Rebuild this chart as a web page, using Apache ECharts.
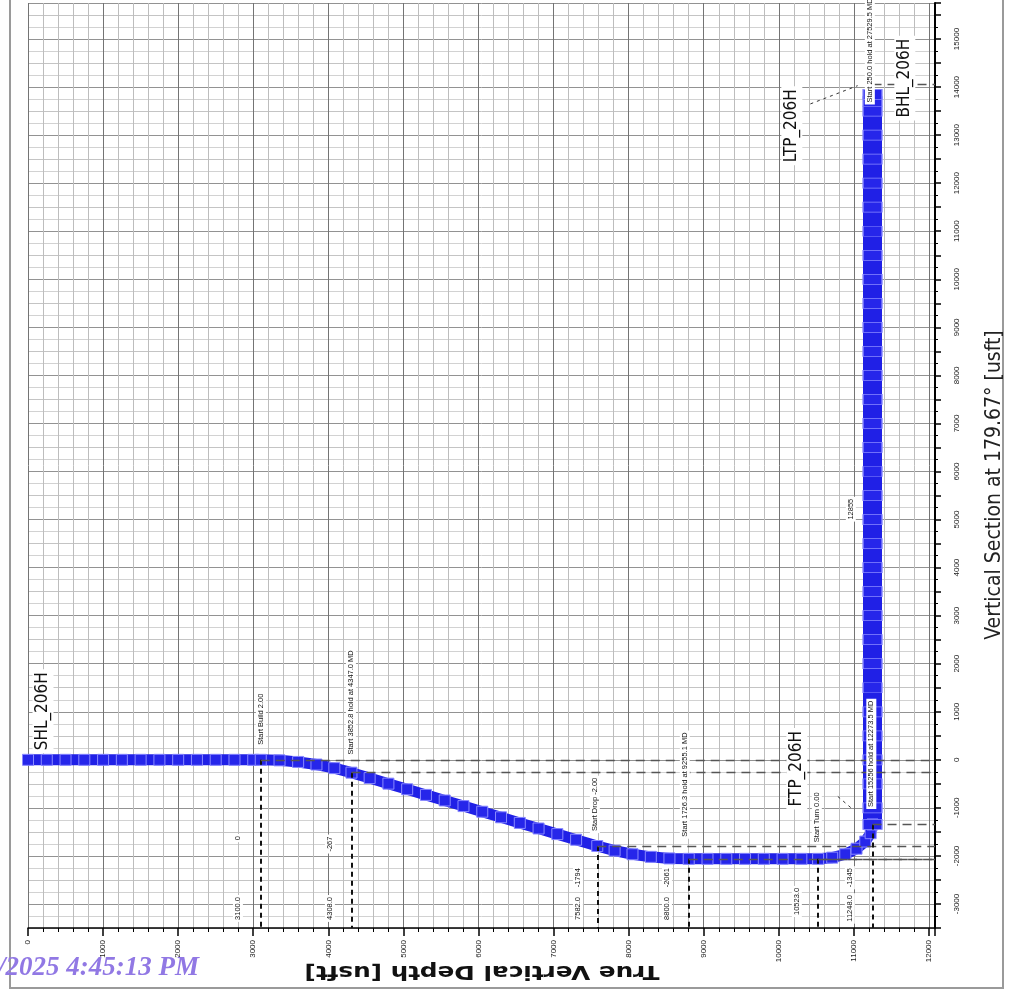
<!DOCTYPE html>
<html><head><meta charset="utf-8">
<script src="https://cdn.jsdelivr.net/npm/echarts@6/dist/echarts.min.js"></script>
<style>html,body{margin:0;padding:0;background:#fff;overflow:hidden}#c{width:1013px;height:991px}</style>
</head><body><div id="c"></div><script>
// ---- data (TVD = true vertical depth, VS = vertical section, usft) ----
const pathTVD = [0, 250, 500, 750, 1000, 1250, 1500, 1750, 2000, 2250, 2500, 2750, 3000, 3100,
  3350, 3598, 3842, 4080, 4308,
  4550, 4800, 5050, 5300, 5550, 5800, 6050, 6300, 6550, 6800, 7050, 7300, 7582,
  7813, 8051, 8295, 8543, 8800,
  9050, 9300, 9550, 9800, 10050, 10300, 10523,
  10711, 10885, 11035, 11151, 11223, 11248];
const pathVS = [0, 0, 0, 0, 0, 0, 0, 0, 0, 0, 0, 0, 0, 0,
  -11, -44, -98, -173, -267,
  -380, -496, -613, -730, -846, -963, -1080, -1196, -1313, -1429, -1546, -1663, -1794,
  -1890, -1965, -2019, -2052, -2061,
  -2061, -2061, -2061, -2061, -2061, -2061, -2061,
  -2036, -1965, -1850, -1701, -1527, -1345];
const lateralTVD = [11248, 11248, 11248, 11248, 11248, 11248, 11248, 11248, 11248, 11248, 11248, 11248, 11248, 11248, 11248, 11248, 11248, 11248, 11248, 11248, 11248, 11248, 11248, 11248, 11248, 11248, 11248, 11248, 11248, 11248, 11248, 11248, 11248];
const lateralVS = [-1345, -1000, -500, 0, 500, 1000, 1500, 2000, 2500, 3000, 3500, 4000, 4500, 5000, 5500, 6000, 6500, 7000, 7500, 8000, 8500, 9000, 9500, 10000, 10500, 11000, 11500, 12000, 12500, 13000, 13500, 13700, 13850];
// key stations (start build, hold, drop, hold, turn, landing)
const keyTVD = [3100, 4308, 7582, 8800, 10523, 11248];
const keyVS = [0, -267, -1794, -2061, -2061, -1345];
const bhlVS = 14050;
// tick labels
const tvdTicks = [0, 1000, 2000, 3000, 4000, 5000, 6000, 7000, 8000, 9000, 10000, 11000, 12000];
const vsTicks = [-3000, -2000, -1000, 0, 1000, 2000, 3000, 4000, 5000, 6000, 7000, 8000, 9000, 10000, 11000, 12000, 13000, 14000, 15000];
// annotations (text and anchor in data coordinates)
const noteText = ["SHL_206H", "FTP_206H", "LTP_206H", "BHL_206H",
  "Start Build 2.00", "Start 3852.8 hold at 4347.0 MD", "Start Drop -2.00", "Start 1726.3 hold at 9255.1 MD",
  "Start Turn 0.00", "Start 15256 hold at 12273.5 MD", "12855", "Start 250.0 hold at 27529.5 MD",
  "0", "3100.0", "-267", "4308.0", "-1794", "7582.0", "-2061", "8800.0", "10523.0", "-1345", "11248.0"];
const noteTVD = [200, 10240, 10173, 11678,
  3102, 4301, 7550, 8748,
  10506, 11232, 10959, 11212,
  2796, 2796, 4021, 4021, 7324, 7324, 8510, 8510, 10240, 10946, 10946];
const noteVS = [1010, -186, 13196, 14186,
  845, 1196, -928, -515,
  -1196, 124, 5216, 14763,
  -1629, -3093, -1753, -3093, -2454, -3093, -2454, -3093, -2948, -2454, -3093];
const bigNotes = 4; // first four are well-point names

const chart = echarts.init(document.getElementById('c'), null, {renderer: 'canvas'});
const lab = v => (tvdTicks.indexOf(v) >= 0 ? String(v) : '');
const labY = v => (vsTicks.indexOf(v) >= 0 ? String(v) : '');
const tickFont = 'Liberation Sans';

const refLines = [];
keyTVD.forEach((t, i) => {
  refLines.push([{coord: [t, keyVS[i]], lineStyle: {type: [5, 4], color: '#111', width: 2}}, {coord: [t, -3500]}]);
  refLines.push([{coord: [t, keyVS[i]], lineStyle: {type: [9, 6], color: '#555', width: 1.4}}, {coord: [12080, keyVS[i]]}]);
});
refLines.push([{coord: [lateralTVD[lateralTVD.length - 1], bhlVS], lineStyle: {type: [9, 6], color: '#555', width: 1.4}}, {coord: [12080, bhlVS]}]);
// leader lines for target names
refLines.push([{coord: [10420, 13650], lineStyle: {type: [3, 4], color: '#333', width: 1}}, {coord: [11050, 14030]}]);
refLines.push([{coord: [10786, -763], lineStyle: {type: [3, 4], color: '#333', width: 1}}, {coord: [10985, -1031]}]);

const option = {
  animation: false,
  backgroundColor: '#fff',
  grid: {left: 28, right: 78, top: -6, bottom: 63, containLabel: false},
  xAxis: {
    type: 'value', min: 0, max: 12080, interval: 1000,
    axisLine: {show: true, onZero: false, lineStyle: {color: '#000', width: 1.5}},
    axisTick: {show: true, length: 8, lineStyle: {color: '#000', width: 1.5}},
    minorTick: {show: true, splitNumber: 5, length: 4, lineStyle: {color: '#000', width: 1}},
    splitLine: {show: true, lineStyle: {color: '#747474', width: 1}},
    minorSplitLine: {show: true, lineStyle: {color: '#bdbdbd', width: 1}},
    axisLabel: {rotate: 90, margin: 12, fontSize: 8, color: '#222', fontFamily: tickFont, formatter: lab}
  },
  yAxis: {
    type: 'value', position: 'right', min: -3500, max: 15750, interval: 500,
    axisLine: {show: true, onZero: false, lineStyle: {color: '#000', width: 2}},
    axisTick: {show: true, length: 6, lineStyle: {color: '#000', width: 1.5}},
    minorTick: {show: true, splitNumber: 2, length: 3, lineStyle: {color: '#000', width: 1}},
    splitLine: {show: true, lineStyle: {color: ['#c4c4c4', '#929292'], width: 1}},
    minorSplitLine: {show: true, lineStyle: {color: '#d2d2d2', width: 1}},
    axisLabel: {rotate: 90, margin: 18, fontSize: 8, color: '#222', fontFamily: tickFont, formatter: labY}
  },
  series: [
    {type: 'line', data: [], z: 1, silent: true,
      markLine: {silent: true, symbol: 'none', label: {show: false}, animation: false, data: refLines}},
    {type: 'line', z: 3, silent: true, showAllSymbol: true,
      data: pathTVD.map((t, i) => [t, pathVS[i]]),
      lineStyle: {color: '#2020e6', width: 11},
      symbol: 'rect', symbolSize: 11,
      itemStyle: {color: '#2626ea', borderColor: '#8a8aff', borderWidth: 1}},
    {type: 'line', z: 3, silent: true, showAllSymbol: true,
      data: lateralTVD.map((t, i) => [t, lateralVS[i]]),
      lineStyle: {color: '#2020e6', width: 19},
      symbol: 'rect', symbolSize: [19, 10],
      itemStyle: {color: '#2626ea', borderColor: '#8a8aff', borderWidth: 1}}
  ]
};
chart.setOption(option);

const narrow = '"Liberation Sans Narrow", "DejaVu Sans Condensed", "Liberation Sans", sans-serif';
const els = [];
noteText.forEach((t, i) => {
  const p = chart.convertToPixel({gridIndex: 0}, [noteTVD[i], noteVS[i]]);
  const big = i < bigNotes;
  els.push({type: 'text', x: p[0], y: p[1], rotation: Math.PI / 2, z: 100, silent: true,
    style: {text: t, font: big ? '17px ' + narrow : '7.5px "Liberation Sans", sans-serif', fill: '#111',
      align: 'center', verticalAlign: 'middle', backgroundColor: '#fff', padding: big ? [2, 3] : [1, 2]}});
});
els.push({type: 'text', x: 995, y: 485, rotation: Math.PI / 2, z: 100, silent: true,
  style: {text: 'Vertical Section at 179.67\u00b0 [usft]', font: '21px ' + narrow, fill: '#222', align: 'center', verticalAlign: 'middle'}});
els.push({type: 'text', x: 482, y: 971, rotation: Math.PI, scaleX: 1.3, z: 100, silent: true,
  style: {text: 'True Vertical Depth [usft]', font: 'bold 19px "DejaVu Sans", sans-serif', fill: '#111', align: 'center', verticalAlign: 'middle'}});
els.push({type: 'text', x: -2, y: 968, z: 100, silent: true,
  style: {text: '/2025 4:45:13 PM', font: 'italic bold 27px "Liberation Serif", serif', fill: '#9178e4', align: 'left', verticalAlign: 'middle'}});
els.push({type: 'rect', z: 99, silent: true, shape: {x: 10, y: -5, width: 993, height: 993},
  style: {fill: 'none', stroke: '#9a9a9a', lineWidth: 2}});
chart.setOption({graphic: {elements: els}});
</script></body></html>
